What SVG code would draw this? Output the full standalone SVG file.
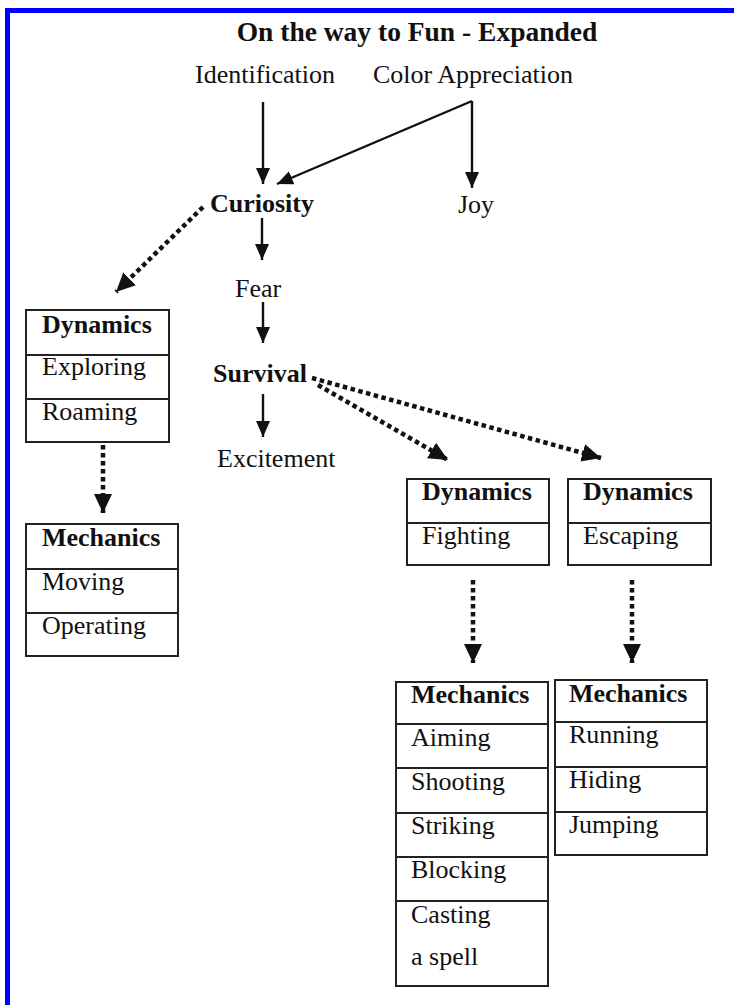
<svg xmlns="http://www.w3.org/2000/svg" width="734" height="1005" viewBox="0 0 734 1005">
  <style>
    text { font-family: "Liberation Serif", "Times New Roman", serif; font-size: 26px; fill: #111; }
    .b { font-weight: bold; }
    .title { font-weight: bold; font-size: 27.5px; text-anchor: middle; }
    .solid { stroke: #111; stroke-width: 2.4; fill: none; marker-end: url(#head); }
    .dots { stroke: #111; stroke-width: 4.5; stroke-dasharray: 4.5 3.5; fill: none; marker-end: url(#bighead); }
    .cell { fill: #fff; stroke: #222; stroke-width: 2; }
    .sep { stroke: #222; stroke-width: 2; }
  </style>
  <defs>
    <marker id="head" viewBox="0 0 16 14" refX="16" refY="7" markerWidth="16" markerHeight="14" markerUnits="userSpaceOnUse" orient="auto">
      <path d="M0,0 L16,7 L0,14 z" fill="#111"/>
    </marker>
    <marker id="bighead" viewBox="0 0 19 18" refX="19" refY="9" markerWidth="19" markerHeight="18" markerUnits="userSpaceOnUse" orient="auto">
      <path d="M0,0 L19,9 L0,18 z" fill="#111"/>
    </marker>
  </defs>

  <rect width="734" height="1005" fill="#fff"/>
  <!-- page frame -->
  <rect x="5" y="8" width="729" height="5" fill="#0000ff"/>
  <rect x="5" y="8" width="5" height="997" fill="#0000ff"/>

  <text class="title" x="417" y="41">On the way to Fun - Expanded</text>

  <g id="connectors">
    <line class="solid" x1="263" y1="102" x2="263" y2="184"/>
    <line class="solid" x1="472" y1="101" x2="472" y2="188"/>
    <line class="solid" x1="472" y1="101" x2="277" y2="184"/>
    <line class="solid" x1="262" y1="218" x2="262" y2="260"/>
    <line class="solid" x1="263" y1="302" x2="263" y2="343"/>
    <line class="solid" x1="263" y1="394" x2="263" y2="437"/>
    <line class="dots" x1="203" y1="207" x2="116" y2="292"/>
    <line class="dots" x1="312" y1="378" x2="601" y2="458"/>
    <line class="dots" x1="318" y1="385" x2="448" y2="460"/>
    <line class="dots" x1="103" y1="445" x2="103" y2="513"/>
    <line class="dots" x1="473" y1="580" x2="473" y2="663"/>
    <line class="dots" x1="632" y1="580" x2="632" y2="663"/>
  </g>

  <g id="identification"><text x="195" y="83">Identification</text></g>
  <g id="color-appreciation"><text x="373" y="83">Color Appreciation</text></g>
  <g id="curiosity"><text class="b" x="210" y="212">Curiosity</text></g>
  <g id="joy"><text x="458" y="213">Joy</text></g>
  <g id="fear"><text x="235" y="297">Fear</text></g>
  <g id="survival"><text class="b" x="213" y="382">Survival</text></g>
  <g id="excitement"><text x="217" y="467">Excitement</text></g>

  <g id="dynamics-curiosity">
    <rect class="cell" x="26" y="310" width="143" height="132"/>
    <line class="sep" x1="26" y1="355" x2="169" y2="355"/>
    <line class="sep" x1="26" y1="399" x2="169" y2="399"/>
    <text class="b" x="42" y="333">Dynamics</text>
    <text x="42" y="375">Exploring</text>
    <text x="42" y="420">Roaming</text>
  </g>

  <g id="mechanics-curiosity">
    <rect class="cell" x="26" y="524" width="152" height="132"/>
    <line class="sep" x1="26" y1="569" x2="178" y2="569"/>
    <line class="sep" x1="26" y1="613" x2="178" y2="613"/>
    <text class="b" x="42" y="546">Mechanics</text>
    <text x="42" y="590">Moving</text>
    <text x="42" y="634">Operating</text>
  </g>

  <g id="dynamics-fighting">
    <rect class="cell" x="407" y="479" width="142" height="86"/>
    <line class="sep" x1="407" y1="523" x2="549" y2="523"/>
    <text class="b" x="422" y="500">Dynamics</text>
    <text x="422" y="544">Fighting</text>
  </g>

  <g id="dynamics-escaping">
    <rect class="cell" x="568" y="479" width="143" height="86"/>
    <line class="sep" x1="568" y1="523" x2="711" y2="523"/>
    <text class="b" x="583" y="500">Dynamics</text>
    <text x="583" y="544">Escaping</text>
  </g>

  <g id="mechanics-fighting">
    <rect class="cell" x="396" y="682" width="152" height="304"/>
    <line class="sep" x1="396" y1="724" x2="548" y2="724"/>
    <line class="sep" x1="396" y1="768" x2="548" y2="768"/>
    <line class="sep" x1="396" y1="813" x2="548" y2="813"/>
    <line class="sep" x1="396" y1="857" x2="548" y2="857"/>
    <line class="sep" x1="396" y1="901" x2="548" y2="901"/>
    <text class="b" x="411" y="703">Mechanics</text>
    <text x="411" y="746">Aiming</text>
    <text x="411" y="790">Shooting</text>
    <text x="411" y="834">Striking</text>
    <text x="411" y="878">Blocking</text>
    <text x="411" y="923">Casting</text>
    <text x="411" y="965">a spell</text>
  </g>

  <g id="mechanics-escaping">
    <rect class="cell" x="555" y="680" width="152" height="175"/>
    <line class="sep" x1="555" y1="722" x2="707" y2="722"/>
    <line class="sep" x1="555" y1="767" x2="707" y2="767"/>
    <line class="sep" x1="555" y1="812" x2="707" y2="812"/>
    <text class="b" x="569" y="702">Mechanics</text>
    <text x="569" y="743">Running</text>
    <text x="569" y="788">Hiding</text>
    <text x="569" y="833">Jumping</text>
  </g>
</svg>
